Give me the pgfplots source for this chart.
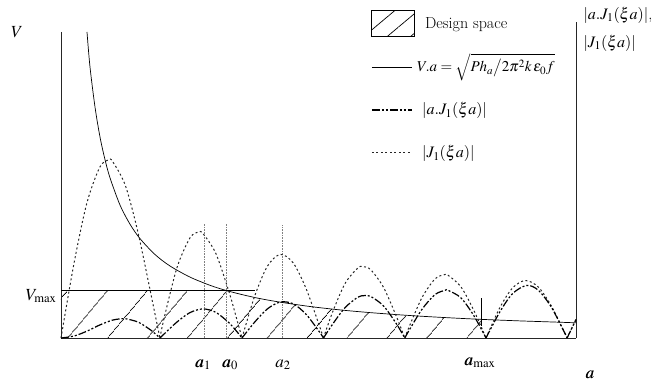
\documentclass[border=0pt]{standalone}
\usepackage{mathptmx}
\usepackage{pgfplots}
\pgfplotsset{compat=1.18}
\usetikzlibrary{patterns.meta}
\tikzset{
  dashdotline/.style={black, line width=1.2pt, dash pattern=on 8pt off 2pt on 2pt off 2pt on 2pt off 2pt},
  dotline/.style={black!85, line width=1pt, dash pattern=on 2pt off 2.5pt},
  hyper/.style={black, line width=0.7pt},
}
\newcommand{\ba}{\mbox{\rlap{$a$}\kern0.4pt$a$}}
\begin{document}
\begin{tikzpicture}
\begin{axis}[
  name=ax,
  scale only axis, width=515pt, height=306pt,
  xmin=61, xmax=576, ymin=0, ymax=306,
  hide axis, clip=false,
  legend style={at={(axis cs:371,328)}, anchor=north west, draw=none, fill=none,
    font=\fontsize{16}{18}\selectfont, row sep=17pt, inner sep=0pt,
    nodes={inner sep=2pt, text height=16pt, text depth=6pt}},
  legend cell align=left,
]
% legend
\addlegendimage{legend image code/.code={\draw[black, line width=0.7pt, pattern={Lines[angle=40,distance=15pt,line width=0.7pt]}] (0pt,-13pt) rectangle (43pt,13pt);}}
\addlegendentry{\hspace{8pt}Design space}
\addlegendimage{legend image code/.code={\draw[hyper] (0pt,0pt) -- (40pt,0pt);}}
\addlegendentry{\fontsize{15}{17}\selectfont$V.a=\sqrt{Ph_a\big/2\pi^2k\,\varepsilon_0 f}$}
\addlegendimage{legend image code/.code={\draw[dashdotline] (0pt,0pt) -- (40pt,0pt);}}
\addlegendentry{\hspace{5pt}$\left|a.J_1(\xi a)\right|$}
\addlegendimage{legend image code/.code={\draw[dotline] (0pt,0pt) -- (40pt,0pt);}}
\addlegendentry{\hspace{5pt}$\left|J_1(\xi a)\right|$}

% design space (hatched)
\addplot[draw=none, forget plot, pattern={Lines[angle=50,distance=30pt,line width=0.75pt]}] coordinates {
 (61,0) (61,48) (224.5,48) (240,43.9) (260,39.4) (283,35.4) (310,31.5) (340,28.1)
 (370,25.4) (405,22.8) (440,20.7) (481,18.7) (481,0)} \closedcycle;

% axis lines
\addplot[black!85, line width=0.8pt, forget plot] coordinates {(61,306) (61,0) (576,0)};
\addplot[black!85, line width=0.8pt, forget plot] coordinates {(576,0) (576,316)};

% Vmax line
\addplot[black, line width=0.7pt, forget plot] coordinates {(61,48) (255,48)};

% vertical guides
\addplot[gray, line width=0.6pt, densely dotted, forget plot] coordinates {(204,0) (204,115)};
\addplot[gray, line width=0.6pt, densely dotted, forget plot] coordinates {(226.5,0) (226.5,115)};
\addplot[gray, line width=0.6pt, densely dotted, forget plot] coordinates {(282.5,0) (282.5,113)};
\addplot[black, line width=0.6pt, forget plot] coordinates {(481,40) (481,12)};

% hyperbola V = C/a
\addplot[hyper, smooth, forget plot] coordinates {
 (87,306) (90,271) (95,231) (100,201) (105,178.4) (110,160.2) (120,133) (130,113.8)
 (140,99.4) (155,83.5) (170,72) (190,60.9) (210,52.7) (224.5,48) (240,43.9) (260,39.4)
 (283,35.4) (310,31.5) (340,28.1) (370,25.4) (405,22.8) (440,20.7) (480,18.7)
 (520,17.1) (550,16.1) (576,15.2)};

% |J1(xi a)|
\addplot[dotline, smooth, forget plot] coordinates {(61,0) (73.9,74.1) (86.8,134.7) (99.7,170.7) (108.5,178.1) (112.6,176.5) (125.5,152.1) (138.4,103.8) (151.3,42.0) (159.9,0)};
\addplot[dotline, smooth, forget plot] coordinates {(159.9,0) (164.2,20.2) (177.1,70.7) (190.0,100.2) (198.5,105.9) (202.9,104.5) (215.8,84.7) (228.7,47.1) (235.2,24.5) (242.0,0)};
\addplot[dotline, smooth, forget plot] coordinates {(242.0,0) (254.5,41.4) (267.4,71.8) (280.3,83.6) (293.2,75.1) (306.1,49.4) (319.0,13.3) (323.5,0)};
\addplot[dotline, smooth, forget plot] coordinates {(323.5,0) (331.9,24.1) (344.8,54.1) (357.7,69.9) (363.0,71.4) (370.6,68.4) (383.5,50.7) (396.4,21.5) (404.8,0)};
\addplot[dotline, smooth, forget plot] coordinates {(404.8,0) (409.3,11.6) (422.2,40.8) (435.1,59.2) (444.5,63.3) (448.0,62.8) (460.9,51.2) (473.8,27.7) (486.0,0)};
\addplot[dotline, smooth, forget plot] coordinates {(486.0,0) (499.6,29.9) (512.5,50.0) (525.4,57.5) (538.3,51.0) (551.2,32.3) (564.1,6.4) (567.1,0)};
\addplot[dotline, forget plot] coordinates {(567.1,0) (576,18.4)};

% |a J1(xi a)|
\addplot[dashdotline, smooth, forget plot] coordinates {(61,0) (73.9,1.9) (86.8,6.8) (99.7,13.0) (112.6,17.9) (122.9,19.4) (125.5,19.3) (138.4,15.8) (151.3,7.5) (159.9,0)};
\addplot[dashdotline, smooth, forget plot] coordinates {(159.9,0) (164.2,4.1) (177.1,16.1) (190.0,25.4) (202.9,29.1) (215.8,25.7) (228.7,15.5) (235.2,8.4) (242.0,0)};
\addplot[dashdotline, smooth, forget plot] coordinates {(242.0,0) (254.5,15.7) (267.4,29.1) (280.3,36.0) (293.2,34.2) (306.1,23.7) (319.0,6.7) (323.5,0)};
\addplot[dashdotline, smooth, forget plot] coordinates {(323.5,0) (331.9,12.8) (344.8,30.1) (357.7,40.7) (364.3,42.4) (370.6,41.6) (383.5,32.1) (396.4,14.2) (404.8,0)};
\addplot[dashdotline, smooth, forget plot] coordinates {(404.8,0) (409.3,8.0) (422.2,29.0) (435.1,43.5) (445.4,47.8) (448.0,47.7) (460.9,40.2) (473.8,22.4) (486.0,0)};
\addplot[dashdotline, smooth, forget plot] coordinates {(486.0,0) (499.6,25.7) (512.5,44.3) (526.7,52.6) (538.3,47.8) (551.2,31.1) (564.1,6.3) (567.1,0)};
\addplot[dashdotline, forget plot] coordinates {(567.1,0) (576,18.6)};

% labels
\node[font=\fontsize{17}{19}\selectfont] at (axis cs:17,306) {$V$};
\node[font=\fontsize{17}{19}\selectfont, anchor=east] at (axis cs:60,42) {$V_{\max}$};
\node[font=\fontsize{17}{19}\selectfont] at (axis cs:203,-27) {$\ba_1$};
\node[font=\fontsize{17}{19}\selectfont] at (axis cs:230,-27) {$\ba_0$};
\node[font=\fontsize{17}{19}\selectfont] at (axis cs:283,-27) {$a_2$};
\node[font=\fontsize{17}{19}\selectfont] at (axis cs:480,-25) {$\ba_{\max}$};
\node[font=\fontsize{17}{19}\selectfont, anchor=base] at (axis cs:590,-40) {\ba};
\node[font=\fontsize{16}{18}\selectfont, anchor=west] at (axis cs:580,323) {$\left|a.J_1(\xi a)\right|$,};
\node[font=\fontsize{16}{18}\selectfont, anchor=west] at (axis cs:580,295) {$\left|J_1(\xi a)\right|$};
\end{axis}
\pgfresetboundingbox
\useasboundingbox ([xshift=-61pt,yshift=-43pt]ax.south west) rectangle ([xshift=78pt,yshift=32pt]ax.north east);
\end{tikzpicture}
\end{document}
